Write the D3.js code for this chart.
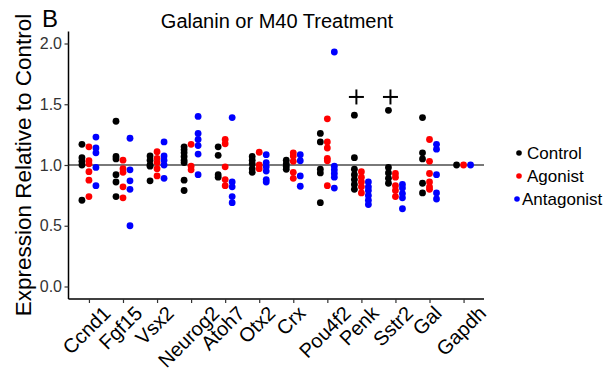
<!DOCTYPE html>
<html>
<head>
<meta charset="utf-8">
<script src="https://cdn.jsdelivr.net/npm/d3@7"></script>
<style>
  body { margin: 0; background: #fff; }
  text { font-family: "Liberation Sans", Arial, sans-serif; }
</style>
</head>
<body>
<div id="chart"></div>
<script>
// genes on the x axis
const genes = ['Ccnd1', 'Fgf15', 'Vsx2', 'Neurog2', 'Atoh7', 'Otx2', 'Crx', 'Pou4f2', 'Penk', 'Sstr2', 'Gal', 'Gapdh'];
const groups = ['Control', 'Agonist', 'Antagonist'];
const groupColors = ['#000000', '#ff0000', '#0000ff'];

// expression relative to control, one list per gene
const control = [
  [1.17, 1.06, 1.03, 1.0, 0.71],
  [1.36, 1.07, 1.05, 0.92, 0.86, 0.74],
  [1.075, 1.04, 1.0, 0.99, 0.87],
  [1.15, 1.125, 1.10, 1.07, 1.04, 1.02, 0.875, 0.79],
  [1.15, 1.08, 0.92, 0.90],
  [1.07, 1.04, 1.01, 0.97, 0.94],
  [1.04, 1.01, 0.99, 0.965],
  [1.26, 1.19, 0.965, 0.935, 0.69],
  [1.41, 1.06, 0.965, 0.92, 0.88, 0.84, 0.80],
  [1.45, 0.98, 0.935, 0.89, 0.85],
  [1.39, 1.10, 1.05, 0.85, 0.77],
  [1.0]
];
const agonist = [
  [1.15, 1.035, 1.01, 0.945, 0.875, 0.74],
  [1.04, 0.97, 0.94, 0.82, 0.73],
  [1.11, 1.055, 1.02, 0.97, 0.91],
  [1.17, 0.99, 0.96],
  [1.21, 1.175, 0.985, 0.88, 0.83],
  [1.105, 1.0, 0.97],
  [1.10, 1.075, 1.03, 0.94, 0.89],
  [1.38, 1.19, 1.14, 1.055, 1.035, 0.83],
  [0.945, 0.90, 0.86, 0.82, 0.77],
  [0.93, 0.90, 0.83, 0.79, 0.74],
  [1.21, 1.03, 0.93, 0.86, 0.82, 0.80],
  [1.0]
];
const antagonist = [
  [1.23, 1.14, 1.10, 0.98, 0.83],
  [1.22, 0.96, 0.87, 0.80, 0.50],
  [1.19, 1.075, 1.04, 1.0, 0.89],
  [1.40, 1.26, 1.21, 1.16, 1.09, 0.92],
  [1.39, 0.86, 0.82, 0.74, 0.69],
  [1.085, 1.02, 0.985, 0.95, 0.88, 0.86],
  [1.085, 1.035, 0.91, 0.825],
  [1.93, 0.99, 0.96, 0.93, 0.90, 0.81],
  [0.86, 0.82, 0.79, 0.75, 0.71, 0.675],
  [0.84, 0.81, 0.765, 0.73, 0.64],
  [1.17, 1.13, 0.92, 0.77, 0.72],
  [1.0]
];
// significance markers
const marked = ['Penk', 'Sstr2'];
const markLevel = 1.56;
const yTicks = [0.0, 0.5, 1.0, 1.5, 2.0];

const width = 606, height = 371;
const plotLeft = 68.5, plotRight = 484, plotTop = 31.5, plotBottom = 299;

const svg = d3.select('#chart').append('svg')
  .attr('width', width)
  .attr('height', height);

const x = d3.scalePoint().domain(genes)
  .range([plotLeft, plotRight])
  .padding(0.6);
const y = d3.scaleLinear().domain([0, 2]).range([286.5, 43.5]);
const dodge = d3.scalePoint().domain(groups).range([-7, 7]);

const g = svg.append('g');

// reference line at 1.0
g.append('line')
  .attr('x1', plotLeft).attr('x2', plotRight)
  .attr('y1', y(1)).attr('y2', y(1))
  .attr('stroke', '#4d4d4d').attr('stroke-width', 1.6);

// points
const series = [control, agonist, antagonist];
const points = [];
series.forEach((s, gi) => {
  s.forEach((vals, i) => {
    vals.forEach(v => points.push({ gene: genes[i], group: groups[gi], value: v, color: groupColors[gi] }));
  });
});
g.selectAll('circle.pt').data(points).enter().append('circle')
  .attr('class', 'pt')
  .attr('cx', d => x(d.gene) + dodge(d.group))
  .attr('cy', d => y(d.value))
  .attr('r', 3.4)
  .attr('fill', d => d.color);

// plus markers
marked.forEach(m => {
  const cx = x(m) - 5, cy = y(markLevel), h = 7.5;
  g.append('line').attr('x1', cx - h).attr('x2', cx + h).attr('y1', cy).attr('y2', cy)
    .attr('stroke', '#000').attr('stroke-width', 2);
  g.append('line').attr('x1', cx).attr('x2', cx).attr('y1', cy - h).attr('y2', cy + h)
    .attr('stroke', '#000').attr('stroke-width', 2);
});

// axes
const xAxis = svg.append('g')
  .attr('transform', `translate(0, ${plotBottom})`)
  .call(d3.axisBottom(x).tickSize(4).tickSizeOuter(0));
xAxis.select('.domain').attr('stroke', '#000').attr('stroke-width', 1.5)
  .attr('d', `M${plotLeft},0H${plotRight}`);
xAxis.selectAll('.tick line').attr('stroke', '#333').attr('stroke-width', 1.2);
// rotated labels: box centred near the tick, top edge just below the axis
const labelSize = 20;
xAxis.selectAll('.tick text')
  .attr('font-size', labelSize)
  .attr('fill', '#000')
  .attr('text-anchor', 'middle')
  .attr('dominant-baseline', 'central')
  .attr('dy', null)
  .attr('y', null)
  .attr('transform', function () {
    const w = this.getComputedTextLength();
    const h = labelSize * 0.93;
    const half = 0.7071 * (w + h) / 2;
    return `translate(-3, ${4 + half}) rotate(-45)`;
  });

const yAxis = svg.append('g')
  .attr('transform', `translate(${plotLeft}, 0)`)
  .call(d3.axisLeft(y).tickValues(yTicks).tickFormat(d3.format('.1f')).tickSize(4).tickSizeOuter(0));
yAxis.select('.domain').attr('stroke', '#000').attr('stroke-width', 1.5)
  .attr('d', `M0,${plotTop}V${plotBottom}`);
yAxis.selectAll('.tick line').attr('stroke', '#333').attr('stroke-width', 1.2);
yAxis.selectAll('.tick text').attr('font-size', 16).attr('fill', '#333').attr('x', -6.5);

// titles
svg.append('text')
  .attr('x', 277).attr('y', 28)
  .attr('text-anchor', 'middle')
  .attr('font-size', 20)
  .text('Galanin or M40 Treatment');
svg.append('text')
  .attr('x', 42).attr('y', 27)
  .attr('font-size', 24)
  .text('B');
svg.append('text')
  .attr('transform', `translate(31, 165) rotate(-90)`)
  .attr('text-anchor', 'middle')
  .attr('font-size', 22.5)
  .text('Expression Relative to Control');

// legend
const legend = svg.append('g');
const legendX = [519, 519, 517];
const legendTextX = [527, 527, 522];
groups.forEach((name, i) => {
  const ly = 153 + i * 23;
  legend.append('circle').attr('cx', legendX[i]).attr('cy', ly).attr('r', 2.8).attr('fill', groupColors[i]);
  legend.append('text').attr('x', legendTextX[i]).attr('y', ly + 6)
    .attr('font-size', 17).text(name);
});
</script>
</body>
</html>
